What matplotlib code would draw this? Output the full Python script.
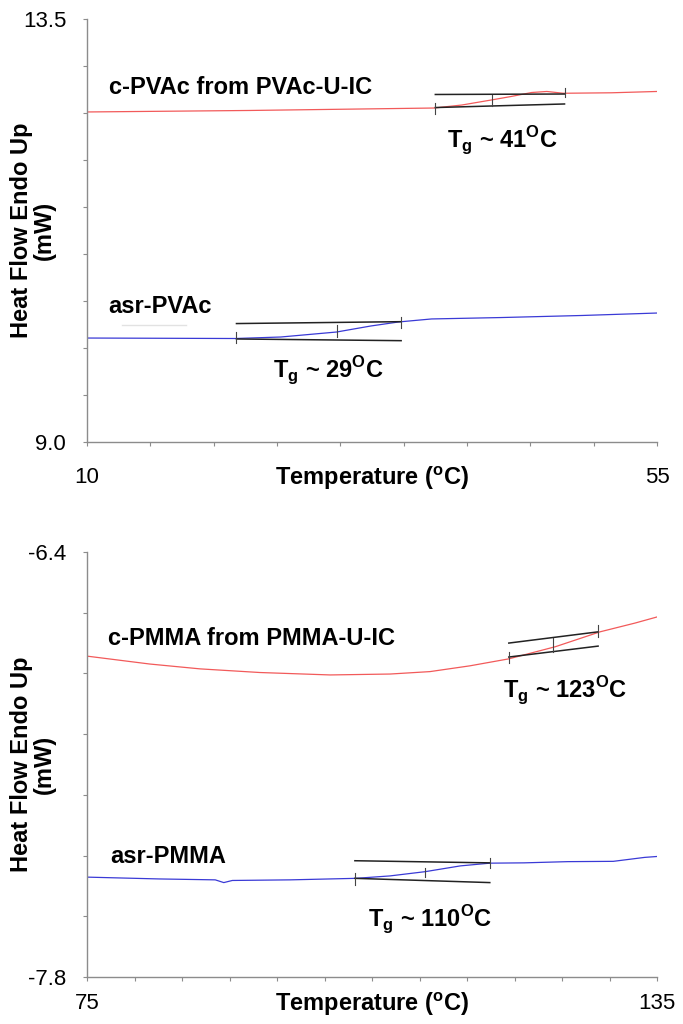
import numpy as np
import matplotlib
matplotlib.use("Agg")
import matplotlib.pyplot as plt
from matplotlib.ticker import MultipleLocator

plt.rcParams["font.family"] = ["Liberation Sans", "DejaVu Sans"]
plt.rcParams["mathtext.fontset"] = "custom"
plt.rcParams["mathtext.rm"] = "Liberation Sans"
plt.rcParams["mathtext.bf"] = "Liberation Sans:bold"

# ---- PVAc (panel superior) ----
t_cpvac = [10.0, 22.9, 37.4, 39.6, 41.9, 43.5, 45.1, 46.3, 47.6, 51.4, 55.0]
hf_cpvac = [12.511, 12.527, 12.553, 12.585, 12.638, 12.676, 12.718, 12.729, 12.710, 12.715, 12.729]

t_asrpvac = [10.0, 21.7, 25.3, 29.7, 32.4, 34.6, 37.2, 42.7, 49.1, 55.0]
hf_asrpvac = [10.106, 10.101, 10.117, 10.170, 10.234, 10.277, 10.309, 10.324, 10.346, 10.372]

# tangentes y marcas del Tg (inicio, medio, fin)
tg_cpvac_t = [37.5, 42.0, 47.7]
tg_cpvac_sup = [12.697, 12.702]
tg_cpvac_inf = [12.558, 12.596]
tg_cpvac_marcas = [(12.49, 12.61), (12.57, 12.69), (12.67, 12.77)]

tg_asrpvac_t = [21.8, 29.7, 34.8]
tg_asrpvac_sup = [10.260, 10.280]
tg_asrpvac_inf = [10.096, 10.078]
tg_asrpvac_marcas = [(10.05, 10.17), (10.12, 10.24), (10.21, 10.33)]

# ---- PMMA (panel inferior) ----
t_cpmma = [75.0, 81.6, 86.9, 93.2, 100.6, 106.9, 111.1, 115.3, 119.4, 124.3, 129.0, 132.7, 135.0]
hf_cpmma = [-6.743, -6.769, -6.785, -6.797, -6.805, -6.802, -6.794, -6.775, -6.752,
            -6.712, -6.663, -6.634, -6.614]

t_asrpmma = [75.0, 82.6, 88.5, 89.4, 90.3, 96.4, 103.3, 106.9, 110.6, 114.3, 117.4,
             121.0, 125.6, 130.4, 133.7, 135.0]
hf_asrpmma = [-7.471, -7.477, -7.480, -7.489, -7.482, -7.480, -7.475, -7.467, -7.453,
              -7.434, -7.425, -7.424, -7.420, -7.419, -7.406, -7.403]

tg_cpmma_t = [119.4, 124.0, 128.8]
tg_cpmma_sup = [-6.700, -6.663]
tg_cpmma_inf = [-6.746, -6.710]
tg_cpmma_marcas = [(-6.766, -6.729), (-6.729, -6.683), (-6.680, -6.640)]

tg_asrpmma_t = [103.2, 110.6, 117.4]
tg_asrpmma_sup = [-7.417, -7.424]
tg_asrpmma_inf = [-7.475, -7.489]
tg_asrpmma_marcas = [(-7.497, -7.457), (-7.470, -7.440), (-7.441, -7.408)]

rojo = "#f25a5a"
azul = "#3a3ad6"
gris = "#8c8c8c"


def dibujar_tg(ax, t, sup, inf, marcas):
    ax.plot([t[0], t[-1]], sup, color="#222222", lw=1.1)
    ax.plot([t[0], t[-1]], inf, color="#222222", lw=1.1)
    for x, (y0, y1) in zip(t, marcas):
        ax.plot([x, x], [y0, y1], color="#444444", lw=0.8)


def preparar_ejes(ax, xlim, ylim, paso_x, paso_y, y_texto):
    ax.set_xlim(*xlim)
    ax.set_ylim(*ylim)
    for s in ["top", "right"]:
        ax.spines[s].set_visible(False)
    for s in ["left", "bottom"]:
        ax.spines[s].set_color(gris)
        ax.spines[s].set_linewidth(1.0)
    ax.set_xticks(list(xlim))
    ax.set_xticklabels([])
    ax.set_yticks(list(ylim))
    ax.set_yticklabels([f"{v:.1f}" for v in ylim])
    ax.xaxis.set_minor_locator(MultipleLocator(paso_x))
    ax.yaxis.set_minor_locator(MultipleLocator(paso_y))
    ax.tick_params(which="both", direction="out", length=3, color=gris, width=0.8)
    ax.tick_params(axis="y", which="major", labelsize=16, pad=12)
    # etiquetas de los extremos del eje x, en la misma linea que el titulo del eje
    ax.text(0.0, y_texto, str(int(xlim[0])), fontsize=16, ha="center", va="center",
            transform=ax.transAxes)
    ax.text(1.0, y_texto, str(int(xlim[1])), fontsize=16, ha="center", va="center",
            transform=ax.transAxes)
    ax.text(0.5, y_texto, r"Temperature ($^\mathbf{o}$C)", fontsize=17, fontweight="bold",
            ha="center", va="center", transform=ax.transAxes)
    ax.text(-0.095, 0.5, "Heat Flow Endo Up\n(mW)", rotation=90, ha="center", va="center",
            fontsize=17, fontweight="bold", linespacing=1.0, transform=ax.transAxes)


fig = plt.figure(figsize=(6.83, 10.24), dpi=100)

ax1 = fig.add_axes([87 / 683, 1 - 442 / 1024, 570 / 683, 423 / 1024])
preparar_ejes(ax1, (10, 55), (9.0, 13.5), 5, 0.5, -0.085)
ax1.plot(t_cpvac, hf_cpvac, color=rojo, lw=0.9)
ax1.plot(t_asrpvac, hf_asrpvac, color=azul, lw=0.9)
ax1.plot([12.8, 17.8], [10.24, 10.24], color="#e2e2e2", lw=1.0)
dibujar_tg(ax1, tg_cpvac_t, tg_cpvac_sup, tg_cpvac_inf, tg_cpvac_marcas)
dibujar_tg(ax1, tg_asrpvac_t, tg_asrpvac_sup, tg_asrpvac_inf, tg_asrpvac_marcas)
ax1.text(11.7, 12.70, "c-PVAc from PVAc-U-IC", fontsize=17, fontweight="bold", va="baseline")
ax1.text(11.7, 10.37, "asr-PVAc", fontsize=17, fontweight="bold", va="baseline")
ax1.text(38.4, 12.13, r"T$_\mathbf{g}$ ~ 41$^\mathbf{O}$C", fontsize=17, fontweight="bold", va="baseline")
ax1.text(24.7, 9.68, r"T$_\mathbf{g}$ ~ 29$^\mathbf{O}$C", fontsize=17, fontweight="bold", va="baseline")

ax2 = fig.add_axes([87 / 683, 1 - 977 / 1024, 570 / 683, 425 / 1024])
preparar_ejes(ax2, (75, 135), (-7.8, -6.4), 5, 0.2, -0.0635)
ax2.plot(t_cpmma, hf_cpmma, color=rojo, lw=0.9)
ax2.plot(t_asrpmma, hf_asrpmma, color=azul, lw=0.9)
dibujar_tg(ax2, tg_cpmma_t, tg_cpmma_sup, tg_cpmma_inf, tg_cpmma_marcas)
dibujar_tg(ax2, tg_asrpmma_t, tg_asrpmma_sup, tg_asrpmma_inf, tg_asrpmma_marcas)
ax2.text(77.2, -6.706, "c-PMMA from PMMA-U-IC", fontsize=17, fontweight="bold", va="baseline")
ax2.text(77.4, -7.424, "asr-PMMA", fontsize=17, fontweight="bold", va="baseline")
ax2.text(118.8, -6.881, r"T$_\mathbf{g}$ ~ 123$^\mathbf{O}$C", fontsize=17, fontweight="bold", va="baseline")
ax2.text(104.6, -7.635, r"T$_\mathbf{g}$ ~ 110$^\mathbf{O}$C", fontsize=17, fontweight="bold", va="baseline")

fig.savefig("out.png", dpi=100)
